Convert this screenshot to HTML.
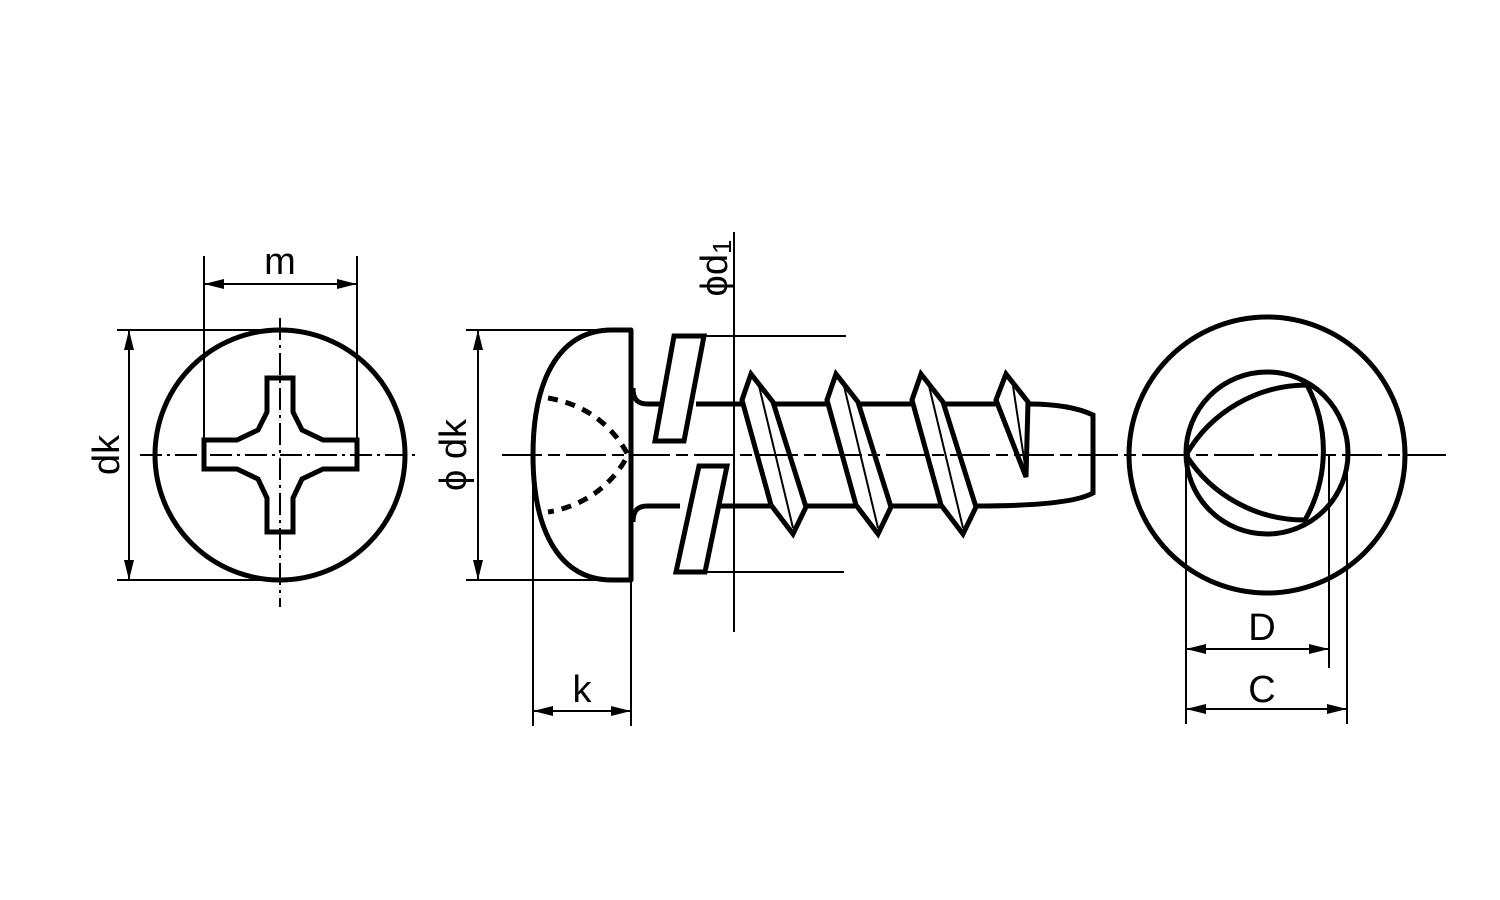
<!DOCTYPE html>
<html><head><meta charset="utf-8"><style>html,body{margin:0;padding:0;background:#fff}svg{display:block}</style></head>
<body>
<svg width="1500" height="900" viewBox="0 0 1500 900" xmlns="http://www.w3.org/2000/svg" font-family="Liberation Sans, sans-serif">
<defs>
<marker id="a" viewBox="0 0 20 10" refX="20" refY="5" markerWidth="20" markerHeight="10" markerUnits="userSpaceOnUse" orient="auto-start-reverse"><path d="M0,0 L20,5 L0,10 Z" fill="#000"/></marker>
</defs>
<g fill="none" stroke="#000">
<!-- LEFT VIEW -->
<circle cx="280" cy="455" r="125" stroke-width="5"/>
<path d="M267,378 L293,378 L293,412 L302,430 L323,440 L357,440 L357,469 L323,469 L302,479 L293,498 L293,532 L267,532 L267,498 L258,479 L237,469 L204,469 L204,440 L237,440 L258,430 L267,412 Z" stroke-width="5"/>
<line x1="280" y1="318" x2="280" y2="607" stroke-width="2" stroke-dasharray="22,5,3,5"/>
<line x1="140" y1="455" x2="418" y2="455" stroke-width="2" stroke-dasharray="22,5,3,5"/>
<line x1="204" y1="256" x2="204" y2="440" stroke-width="2"/>
<line x1="357" y1="256" x2="357" y2="440" stroke-width="2"/>
<line x1="204" y1="284" x2="357" y2="284" stroke-width="2" marker-start="url(#a)" marker-end="url(#a)"/>
<line x1="117" y1="330" x2="280" y2="330" stroke-width="2"/>
<line x1="117" y1="580" x2="280" y2="580" stroke-width="2"/>
<line x1="129" y1="330" x2="129" y2="580" stroke-width="2" marker-start="url(#a)" marker-end="url(#a)"/>

<!-- SIDE VIEW -->
<path d="M631,330 L631,580 L612,580 C562,580 533,535 533,455 C533,375 562,330 612,330 Z" stroke-width="5" stroke-linejoin="round"/>
<path d="M548,398 C590,405 615,430 628,455 C615,480 590,505 548,512" stroke-width="5" stroke-dasharray="10,8"/>
<path d="M633,388 C633,400 638,404 648,404 L660,404" stroke-width="5"/>
<path d="M633,522 C633,510 638,506 648,506 L680,506" stroke-width="5"/>
<line x1="696" y1="404" x2="742" y2="404" stroke-width="5"/>
<line x1="773" y1="404" x2="827" y2="404" stroke-width="5"/>
<line x1="858" y1="404" x2="912" y2="404" stroke-width="5"/>
<line x1="943" y1="404" x2="997" y2="404" stroke-width="5"/>
<line x1="719" y1="506" x2="771" y2="506" stroke-width="5"/>
<line x1="806" y1="506" x2="856" y2="506" stroke-width="5"/>
<line x1="891" y1="506" x2="941" y2="506" stroke-width="5"/>
<path d="M1028,404 Q1070,404 1093,415 L1093,493 Q1070,506 976,506" stroke-width="5"/>
<path d="M674,336 L704,336 L684,441 L655,441 Z" stroke-width="5" fill="#fff"/>
<path d="M699,466 L727,466 L705,572 L676,572 Z" stroke-width="5" fill="#fff"/>
<g stroke-width="5" fill="#fff" stroke-linejoin="miter">
<path d="M742,400 L751,374 L773,402 L806,507 L793,534 L771,505 Z"/>
<path d="M827,400 L836,374 L858,402 L891,507 L878,534 L856,505 Z"/>
<path d="M912,400 L921,374 L943,402 L976,507 L963,534 L941,505 Z"/>
<path d="M996,400 L1006,374 L1028,402 L1026,477 Z"/>
</g>
<g stroke-width="2">
<line x1="759" y1="386" x2="793" y2="528"/>
<line x1="844" y1="386" x2="878" y2="528"/>
<line x1="929" y1="386" x2="963" y2="528"/>
<line x1="1013" y1="386" x2="1026" y2="472"/>
</g>
<line x1="502" y1="455" x2="1150" y2="455" stroke-width="2" stroke-dasharray="40,6,12,6"/>
<line x1="734" y1="232" x2="734" y2="632" stroke-width="2"/>
<line x1="704" y1="336" x2="846" y2="336" stroke-width="2"/>
<line x1="705" y1="572" x2="844" y2="572" stroke-width="2"/>
<line x1="466" y1="330" x2="628" y2="330" stroke-width="2"/>
<line x1="466" y1="580" x2="612" y2="580" stroke-width="2"/>
<line x1="478" y1="330" x2="478" y2="580" stroke-width="2" marker-start="url(#a)" marker-end="url(#a)"/>
<line x1="533" y1="470" x2="533" y2="726" stroke-width="2"/>
<line x1="631" y1="580" x2="631" y2="726" stroke-width="2"/>
<line x1="533" y1="711" x2="631" y2="711" stroke-width="2" marker-start="url(#a)" marker-end="url(#a)"/>

<!-- RIGHT VIEW -->
<circle cx="1267" cy="455" r="138" stroke-width="5"/>
<circle cx="1267" cy="453" r="81" stroke-width="5"/>
<path d="M1186,455 A140,140 0 0 1 1307,385 A140,140 0 0 1 1305,520 A140,140 0 0 1 1186,455 Z" stroke-width="5" stroke-linejoin="round"/>
<line x1="1150" y1="455" x2="1450" y2="455" stroke-width="2" stroke-dasharray="40,6,12,6"/>
<line x1="1186" y1="455" x2="1186" y2="724" stroke-width="2"/>
<line x1="1329" y1="455" x2="1329" y2="668" stroke-width="2"/>
<line x1="1347" y1="455" x2="1347" y2="724" stroke-width="2"/>
<line x1="1186" y1="649" x2="1329" y2="649" stroke-width="2" marker-start="url(#a)" marker-end="url(#a)"/>
<line x1="1186" y1="709" x2="1347" y2="709" stroke-width="2" marker-start="url(#a)" marker-end="url(#a)"/>
</g>
<g fill="#000" font-size="38">
<text x="280" y="274" text-anchor="middle">m</text>
<text transform="translate(119,455) rotate(-90)" text-anchor="middle">dk</text>
<text transform="translate(466,455) rotate(-90)" text-anchor="middle">ϕ dk</text>
<text x="582" y="702" text-anchor="middle">k</text>
<text transform="translate(727,268) rotate(-90)" text-anchor="middle">ϕd<tspan font-size="26" dy="4">1</tspan></text>
<text x="1262" y="640" text-anchor="middle">D</text>
<text x="1262" y="702" text-anchor="middle">C</text>
</g>
</svg>
</body></html>
